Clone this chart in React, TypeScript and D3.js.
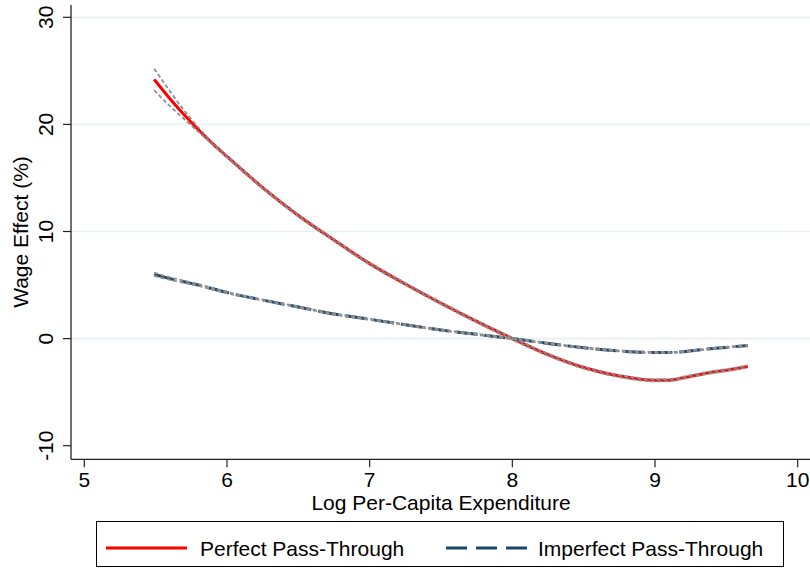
import React from "react";
import * as d3 from "d3";

const W = 810;
const H = 571;

// x positions (log per-capita expenditure)
const xVals = [5.49, 5.6, 5.7, 5.8, 5.9, 6.0, 6.25, 6.5, 6.75, 7.0, 7.25, 7.5, 7.75, 8.0, 8.25, 8.5, 8.75, 9.0, 9.1, 9.2, 9.35, 9.5, 9.65];

// Perfect pass-through wage effect (%)
const perfect = [24.2, 22.4, 20.9, 19.5, 18.2, 17.0, 14.1, 11.5, 9.2, 7.0, 5.1, 3.3, 1.6, 0.0, -1.5, -2.7, -3.5, -3.9, -3.88, -3.65, -3.25, -2.95, -2.6];
const perfectUpper = [25.2, 23.1, 21.3, 19.7, 18.3, 17.1, 14.2, 11.6, 9.3, 7.1, 5.2, 3.4, 1.7, 0.1, -1.4, -2.6, -3.4, -3.8, -3.78, -3.55, -3.15, -2.85, -2.5];
const perfectLower = [23.2, 21.7, 20.5, 19.3, 18.1, 16.9, 14.0, 11.4, 9.1, 6.9, 5.0, 3.2, 1.5, -0.1, -1.6, -2.8, -3.6, -4.0, -3.98, -3.75, -3.35, -3.05, -2.7];

// Imperfect pass-through wage effect (%)
const imperfect = [6.0, 5.6, 5.3, 5.0, 4.65, 4.3, 3.6, 2.95, 2.3, 1.8, 1.3, 0.8, 0.4, 0.0, -0.45, -0.85, -1.15, -1.3, -1.3, -1.22, -1.0, -0.82, -0.65];
const imperfectUpper = [6.15, 5.72, 5.4, 5.08, 4.72, 4.36, 3.65, 3.0, 2.35, 1.85, 1.35, 0.85, 0.45, 0.05, -0.4, -0.8, -1.1, -1.25, -1.25, -1.17, -0.95, -0.77, -0.58];
const imperfectLower = [5.85, 5.48, 5.2, 4.92, 4.58, 4.24, 3.55, 2.9, 2.25, 1.75, 1.25, 0.75, 0.35, -0.05, -0.5, -0.9, -1.2, -1.35, -1.35, -1.27, -1.05, -0.87, -0.72];

const xTicks = [5, 6, 7, 8, 9, 10];
const yTicks = [-10, 0, 10, 20, 30];
const gridVals = [0, 10, 20, 30];

const legendLabels = ["Perfect Pass-Through", "Imperfect Pass-Through"];

const FONT = "'Liberation Sans', Arial, Helvetica, sans-serif";

export default function App() {
  const x = d3.scaleLinear().domain([5, 10]).range([84.3, 797.7]);
  const y = d3.scaleLinear().domain([-10, 30]).range([445.7, 17.3]);

  const plotLeft = 71;
  const plotTop = 5;
  const plotBottom = 459.3;

  const mk = (vals: number[]) =>
    d3
      .line<number>()
      .x((_, i) => x(xVals[i]))
      .y((d) => y(d))
      .curve(d3.curveMonotoneX)(vals) || "";

  const red = "#ff0000";
  const navy = "#1a476f";
  const ciGray = "#8f8f8f";

  return (
    <svg
      width={W}
      height={H}
      style={{ position: "absolute", left: 0, top: 0, background: "#fff" }}
      fontFamily={FONT}
    >
      <rect x={0} y={0} width={W} height={H} fill="#fff" />
      {/* gridlines */}
      {gridVals.map((v) => (
        <line key={"g" + v} x1={plotLeft} x2={W} y1={y(v)} y2={y(v)} stroke="#e8eff2" strokeWidth={1.6} />
      ))}

      {/* main lines */}
      <path d={mk(perfect)} fill="none" stroke={red} strokeWidth={3} />
      <path d={mk(imperfect)} fill="none" stroke={navy} strokeWidth={3} strokeDasharray="21,7" />

      {/* confidence bands */}
      {[perfectUpper, perfectLower, imperfectUpper, imperfectLower].map((arr, i) => (
        <path key={"ci" + i} d={mk(arr)} fill="none" stroke={ciGray} strokeWidth={1.8} strokeDasharray="4,2.5" />
      ))}

      {/* axes */}
      <line x1={plotLeft} x2={plotLeft} y1={plotTop} y2={plotBottom} stroke="#222" strokeWidth={1.3} />
      <line x1={plotLeft} x2={W} y1={plotBottom} y2={plotBottom} stroke="#222" strokeWidth={1.3} />

      {yTicks.map((t) => (
        <g key={"yt" + t}>
          <line x1={63} x2={plotLeft} y1={y(t)} y2={y(t)} stroke="#222" strokeWidth={1.2} />
          <text
            transform={`translate(53,${y(t)}) rotate(-90)`}
            textAnchor="middle"
            fontSize={21}
            fill="#000"
          >
            {t}
          </text>
        </g>
      ))}

      {xTicks.map((t) => (
        <g key={"xt" + t}>
          <line x1={x(t)} x2={x(t)} y1={plotBottom} y2={467.3} stroke="#222" strokeWidth={1.2} />
          <text x={x(t)} y={487} textAnchor="middle" fontSize={21} fill="#000">
            {t}
          </text>
        </g>
      ))}

      {/* axis titles */}
      <text x={441} y={510} textAnchor="middle" fontSize={21} fill="#000">
        Log Per-Capita Expenditure
      </text>
      <text transform={`translate(28,232) rotate(-90)`} textAnchor="middle" fontSize={21} fill="#000">
        Wage Effect (%)
      </text>

      {/* legend */}
      <rect x={96.5} y={521.5} width={687} height={45} fill="#fff" stroke="#000" strokeWidth={1} />
      <line x1={106} x2={187} y1={548} y2={548} stroke={red} strokeWidth={3} />
      <text x={200} y={556} fontSize={21} fill="#000">
        {legendLabels[0]}
      </text>
      <line x1={446} x2={527} y1={548} y2={548} stroke={navy} strokeWidth={3} strokeDasharray="21,9" />
      <text x={538} y={556} fontSize={21} fill="#000">
        {legendLabels[1]}
      </text>
    </svg>
  );
}
